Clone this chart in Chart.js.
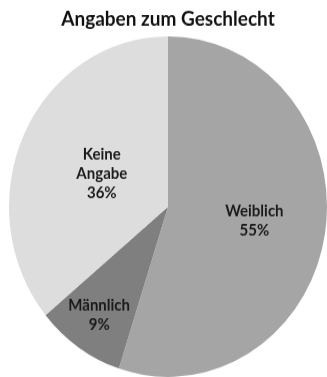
<!DOCTYPE html>
<html>
<head>
<meta charset="utf-8">
<script src="https://cdn.jsdelivr.net/npm/chart.js@4"></script>
<style>
  html, body { margin: 0; background: #fff; overflow: hidden; }
</style>
</head>
<body>
<!-- leicht vertikal gestreckt wie das Original -->
<canvas id="geschlechtChart" width="327" height="352" style="display:block;width:327px;height:377px"></canvas>
<script>
// Daten des Diagramms
const kategorien = ["Weiblich", "Männlich", "Keine Angabe"];
const etiketten = [["Weiblich"], ["Männlich"], ["Keine", "Angabe"]];
const anteile = [55, 9, 36];
const farben = ["#a5a5a5", "#7f7f7f", "#dddddd"];

// Abstand der Beschriftung vom Mittelpunkt (Anteil am Radius)
const labelRadius = [0.55, 0.77, 0.46];

// Plugin, das Name und Prozent in die Segmente schreibt
const segmentLabels = {
  id: "segmentLabels",
  afterDatasetsDraw(chart) {
    const ctx = chart.ctx;
    const meta = chart.getDatasetMeta(0);
    ctx.save();
    ctx.font = "bold 15px Lato";
    ctx.fillStyle = "#1a1a1a";
    ctx.textAlign = "center";
    ctx.textBaseline = "middle";
    meta.data.forEach((arc, i) => {
      const p = arc.getProps(["x", "y", "startAngle", "endAngle", "outerRadius"], true);
      const mitte = (p.startAngle + p.endAngle) / 2;
      const r = p.outerRadius * labelRadius[i];
      const x = p.x + Math.cos(mitte) * r;
      const y = p.y + Math.sin(mitte) * r;
      const zeilen = etiketten[i].concat([anteile[i] + "%"]);
      const lh = 18;
      zeilen.forEach((z, k) => {
        ctx.fillText(z, x, y + (k - (zeilen.length - 1) / 2) * lh);
      });
    });
    ctx.restore();
  }
};

new Chart(document.getElementById("geschlechtChart"), {
  type: "pie",
  data: {
    labels: kategorien,
    datasets: [
      {
        data: anteile,
        backgroundColor: farben,
        borderWidth: 0
      }
    ]
  },
  options: {
    responsive: false,
    animation: false,
    layout: { padding: { left: 9, right: 0, top: 0, bottom: 0 } },
    plugins: {
      legend: { display: false },
      tooltip: { enabled: false },
      title: {
        display: true,
        text: "Angaben zum Geschlecht",
        color: "#111",
        font: { family: "Lato", size: 19, weight: "bold" },
        padding: { top: 6, bottom: 5 }
      }
    }
  },
  plugins: [segmentLabels]
});
</script>
</body>
</html>
